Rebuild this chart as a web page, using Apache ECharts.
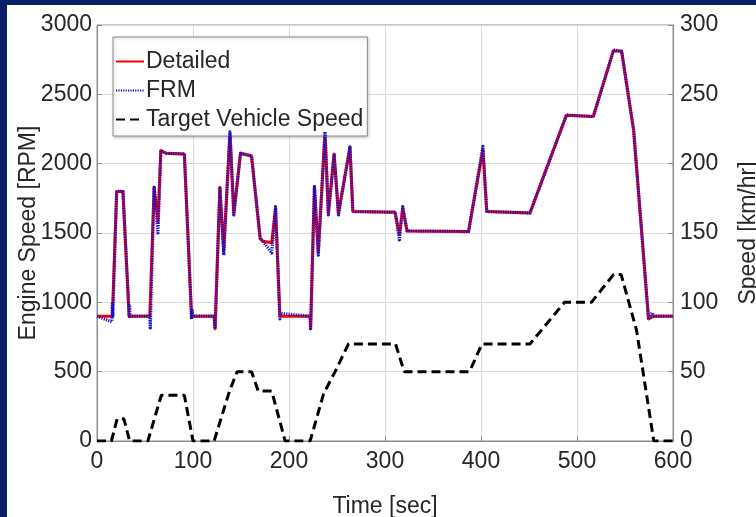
<!DOCTYPE html>
<html>
<head>
<meta charset="utf-8">
<script src="https://cdn.jsdelivr.net/npm/echarts@6/dist/echarts.min.js"></script>
<style>
  html, body { margin: 0; padding: 0; width: 756px; height: 517px; overflow: hidden; background: #0b1f66; }
  #chart { position: absolute; left: 7px; top: 5px; width: 749px; height: 512px; background: #ffffff; }
</style>
</head>
<body>
<div id="chart"></div>
<script>
// Engine speed of the detailed model [s, RPM]
const detailedTime = [0, 16, 20.5, 27, 33.5, 55, 59.5, 63.5, 66.5, 72, 91, 98.5, 122, 123, 128, 132, 138.5, 142.5, 149.5, 161, 170, 173, 182, 186, 190.5, 222, 222.5, 226.5, 230.5, 237.5, 241, 247, 251.5, 263.5, 266.5, 310.5, 315, 318.5, 323, 387, 402, 406, 451, 489, 517, 538, 546.5, 559, 574.5, 580, 600];
const detailedRpm  = [900, 900, 1800, 1800, 900, 900, 1830, 1580, 2095, 2075, 2070, 900, 900, 810, 1830, 1370, 2230, 1640, 2075, 2055, 1460, 1440, 1430, 1680, 900, 900, 810, 1835, 1360, 2230, 1640, 2070, 1640, 2120, 1655, 1650, 1490, 1680, 1515, 1510, 2100, 1655, 1645, 2350, 2340, 2815, 2810, 2240, 880, 900, 900];

// Engine speed of the FRM model [s, RPM]
const frmTime = [0, 15.5, 16, 16.5, 20.5, 27, 33.5, 34, 34.5, 55, 55.5, 59.5, 63.5, 66.5, 72, 91, 98.5, 99, 99.5, 122, 123, 128, 132, 138.5, 142.5, 149.5, 161, 170, 173, 182, 186, 190.5, 191, 222, 222.5, 226.5, 230.5, 237.5, 241, 247, 251.5, 263.5, 266.5, 310.5, 315, 318.5, 323, 387, 402, 406, 451, 489, 517, 538, 546.5, 559, 574.5, 578, 580, 600];
const frmRpm  = [900, 860, 1000, 900, 1800, 1800, 900, 970, 900, 900, 815, 1830, 1500, 2095, 2075, 2070, 880, 950, 900, 900, 810, 1830, 1340, 2230, 1630, 2075, 2055, 1460, 1440, 1356, 1690, 880, 920, 900, 810, 1835, 1340, 2230, 1630, 2070, 1630, 2120, 1655, 1650, 1450, 1690, 1515, 1510, 2125, 1655, 1645, 2350, 2340, 2820, 2810, 2240, 880, 925, 900, 900];

// Target vehicle speed [s, km/hr]
const targetTime  = [0, 15, 21, 28, 34, 53, 67, 91, 100, 122, 138, 146, 161, 168, 182, 196, 222, 236, 248, 262, 311, 320, 388, 401, 451, 487, 515, 538, 546, 562, 580, 600];
const targetSpeed = [0, 0, 16, 16, 0, 0, 33, 33, 0, 0, 36, 50, 50, 36, 36, 0, 0, 34, 50, 70, 70, 50, 50, 70, 70, 100, 100, 120, 120, 80, 0, 0];

// Axis ticks
const timeTicks = [0, 100, 200, 300, 400, 500, 600];
const rpmTicks = [0, 500, 1000, 1500, 2000, 2500, 3000];
const speedTicks = [0, 50, 100, 150, 200, 250, 300];

const pairs = (xs, ys) => xs.map((x, i) => [x, ys[i]]);
const plain = v => String(v);

const FONT = 'Liberation Sans, Arial, sans-serif';
const TEXT = '#262626';
const AXIS = '#8c8c8c';
const GRIDLINE = '#dcdcdc';
const FS = 23;

const chart = echarts.init(document.getElementById('chart'), null, { renderer: 'canvas' });

chart.setOption({
  animation: false,
  backgroundColor: '#ffffff',
  textStyle: { fontFamily: FONT, color: TEXT },
  grid: {
    left: 90, right: 83, top: 20, bottom: 76,
    outerBoundsMode: 'none',
    containLabel: false,
    show: true, borderColor: AXIS, borderWidth: 1, backgroundColor: '#ffffff'
  },
  legend: {
    orient: 'vertical',
    left: 106, top: 32,
    padding: [13, 4, 5, 2],
    itemGap: 6,
    itemWidth: 28, itemHeight: 14,
    backgroundColor: '#ffffff',
    borderColor: '#8c8c8c', borderWidth: 1,
    shadowColor: 'rgba(0,0,0,0.25)', shadowBlur: 3, shadowOffsetX: 1, shadowOffsetY: 1,
    itemStyle: { opacity: 0 },
    textStyle: { fontFamily: FONT, fontSize: FS, color: TEXT, padding: [0, 0, 0, -3] },
    data: ['Detailed', 'FRM', 'Target Vehicle Speed']
  },
  xAxis: {
    type: 'value',
    min: timeTicks[0], max: timeTicks[timeTicks.length - 1], interval: 100,
    name: 'Time [sec]', nameLocation: 'middle', nameGap: 54, nameMoveOverlap: false,
    nameTextStyle: { fontFamily: FONT, fontSize: FS, color: TEXT },
    axisLine: { show: true, lineStyle: { color: AXIS, width: 1 } },
    axisTick: { show: true, inside: true, length: 5, lineStyle: { color: AXIS } },
    axisLabel: { fontFamily: FONT, fontSize: FS, color: TEXT, margin: 9, formatter: plain },
    splitLine: { show: true, lineStyle: { color: GRIDLINE, width: 1 } }
  },
  yAxis: [
    {
      type: 'value',
      min: rpmTicks[0], max: rpmTicks[rpmTicks.length - 1], interval: 500,
      name: 'Engine Speed [RPM]', nameLocation: 'middle', nameGap: 57, nameRotate: 90,
      nameMoveOverlap: false,
      nameTextStyle: { fontFamily: FONT, fontSize: FS, color: TEXT },
      axisLine: { show: true, lineStyle: { color: AXIS, width: 1 } },
      axisTick: { show: true, inside: true, length: 5, lineStyle: { color: AXIS } },
      axisLabel: { fontFamily: FONT, fontSize: FS, color: TEXT, margin: 5, formatter: plain },
      splitLine: { show: true, lineStyle: { color: GRIDLINE, width: 1 } }
    },
    {
      type: 'value', position: 'right',
      min: speedTicks[0], max: speedTicks[speedTicks.length - 1], interval: 50,
      name: 'Speed [km/hr]', nameLocation: 'middle', nameGap: 64, nameRotate: 90,
      nameMoveOverlap: false,
      nameTextStyle: { fontFamily: FONT, fontSize: FS, color: TEXT },
      axisLine: { show: true, lineStyle: { color: AXIS, width: 1 } },
      axisTick: { show: true, inside: true, length: 5, lineStyle: { color: AXIS } },
      axisLabel: { fontFamily: FONT, fontSize: FS, color: TEXT, margin: 7, formatter: plain },
      splitLine: { show: false }
    }
  ],
  series: [
    {
      name: 'Detailed', type: 'line', yAxisIndex: 0,
      data: pairs(detailedTime, detailedRpm),
      showSymbol: false, symbol: 'none',
      itemStyle: { color: '#ff0000' },
      lineStyle: { color: '#ff0000', width: 3, join: 'round' },
      z: 3
    },
    {
      name: 'FRM', type: 'line', yAxisIndex: 0,
      data: pairs(frmTime, frmRpm),
      showSymbol: false, symbol: 'none',
      itemStyle: { color: '#0000ff' },
      lineStyle: { color: '#1010d0', width: 3.2, type: [1.2, 1.2], join: 'round' },
      z: 4
    },
    {
      name: 'Target Vehicle Speed', type: 'line', yAxisIndex: 1,
      data: pairs(targetTime, targetSpeed),
      showSymbol: false, symbol: 'none',
      itemStyle: { color: '#000000' },
      lineStyle: { color: '#000000', width: 3, type: [9, 5] },
      z: 2
    }
  ]
});
</script>
</body>
</html>
